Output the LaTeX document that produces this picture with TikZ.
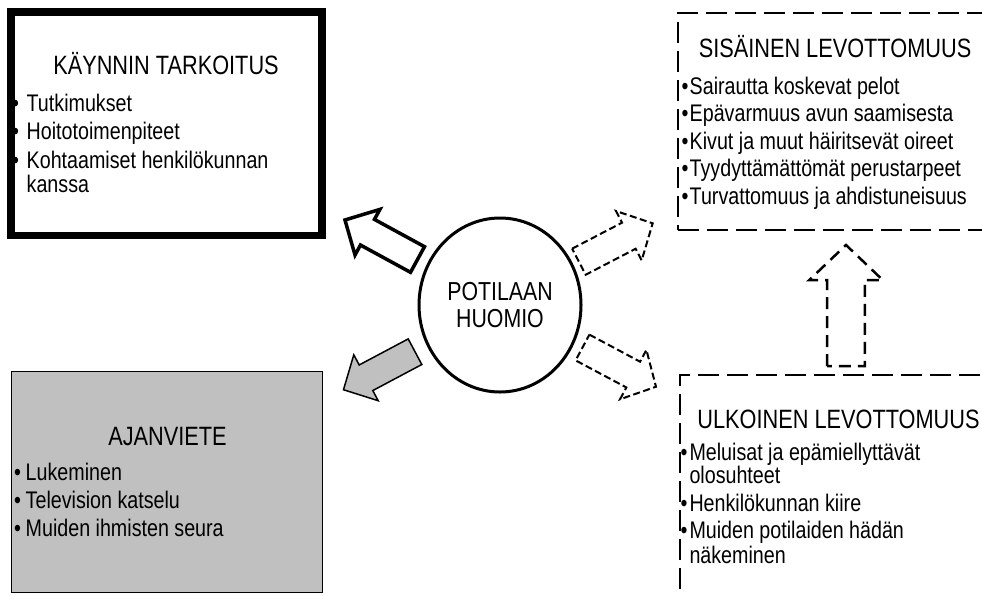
\documentclass[tikz,border=0pt]{standalone}
\usepackage{fontspec}
\setmainfont[FakeStretch=0.82]{Liberation Sans}
\usetikzlibrary{shapes.geometric}
\definecolor{boxgray}{HTML}{C0C0C0}
\newcommand\titlefnt{\fontsize{26.5}{28}\selectfont}
\newcommand\bodyfnt{\fontsize{24}{25}\selectfont}
\newcommand\circfnt{\fontsize{26}{27}\selectfont}
% block arrow: style, tail, angle, length, shaft half width, head half width, head length
\newcommand\barrow[7]{\begin{scope}[shift={#2},rotate=#3]
\draw[#1] (0,-#5) -- ({#4-#7},-#5) -- ({#4-#7},-#6) -- (#4,0) -- ({#4-#7},#6) -- ({#4-#7},#5) -- (0,#5) -- cycle;
\end{scope}}
\tikzset{
  solidarrow/.style={draw=black,line width=3.5pt,fill=white},
  grayarrow/.style={draw=black,line width=1.5pt,fill=boxgray},
  dasharrow/.style={draw=black,line width=2pt,dash pattern=on 7pt off 3.5pt,fill=white},
  updash/.style={draw=black,line width=2.5pt,dash pattern=on 12pt off 7pt,fill=white},
  txt/.style={inner sep=0pt,anchor=base west,font=\bodyfnt},
  ttl/.style={inner sep=0pt,anchor=base,font=\titlefnt},
  thickbox/.style={draw=black,line width=7.7pt,fill=white,rectangle,inner sep=0pt},
  graybox/.style={draw=black,line width=1.5pt,fill=boxgray,rectangle,inner sep=0pt},
  dashbox/.style={draw=black,line width=2.7pt,dash pattern=on 21pt off 8pt,rectangle,inner sep=0pt},
}
\begin{document}
\begin{tikzpicture}[x=1pt,y=-1pt]
\useasboundingbox (0,0) rectangle (982,595);
\clip (0,0) rectangle (982,595);
\fill[white] (0,0) rectangle (982,595);

% boxes
\node[thickbox,minimum width=311pt,minimum height=223.3pt] (purpose) at (166.7,123.85) {};
\node[graybox,minimum width=310.6pt,minimum height=220.6pt] (pastime) at (167,482) {};
\node[dashbox,minimum width=322pt,minimum height=217pt] (inner) at (839,121.5) {};
\node[dashbox,minimum width=320pt,minimum height=240pt] (outer) at (840,495) {};

% centre
\node[ellipse,draw=black,line width=3pt,fill=white,minimum width=162pt,minimum height=174pt,
      inner sep=0pt,align=center,font=\circfnt] (focus) at (500,305) {POTILAAN\\HUOMIO};

% block arrows
\barrow{solidarrow}{(417.5,259.5)}{151.4}{82.6}{14.6}{26}{25.6}
\barrow{grayarrow}{(415,351.7)}{208}{81}{14.5}{26}{25.5}
\barrow{dasharrow}{(578.9,261.7)}{27.5}{83.2}{14.7}{27.8}{26.9}
\barrow{dasharrow}{(582.5,347.5)}{-28.1}{83.3}{14.6}{28}{25.8}
\barrow{updash}{(846,366)}{90}{121}{18.9}{36.7}{35}

% titles
\node[ttl] (t1) at (166,74) {KÄYNNIN TARKOITUS};
\node[ttl] (t2) at (167.5,445) {AJANVIETE};
\node[ttl] (t3) at (835,57) {SISÄINEN LEVOTTOMUUS};
\node[ttl] (t4) at (838.5,428) {ULKOINEN LEVOTTOMUUS};

% lists
\foreach \yy/\bb/\tx [count=\i] in {111/1/Tutkimukset,139/1/Hoitotoimenpiteet,168/1/Kohtaamiset henkilökunnan,192/0/kanssa}{
  \node[txt] (pa\i) at (26.5,\yy) {\tx};
  \ifnum\bb=1 \node[txt] (pb\i) at (12,\yy) {\textbullet}; \fi
}
\foreach \yy/\tx [count=\i] in {480.7/Lukeminen,508/Television katselu,536.7/Muiden ihmisten seura}{
  \node[txt] (aa\i) at (25.5,\yy) {\tx};
  \node[txt] (ab\i) at (14,\yy) {\textbullet};
}
\foreach \yy/\tx [count=\i] in {94/Sairautta koskevat pelot,121.7/Epävarmuus avun saamisesta,149/Kivut ja muut häiritsevät oireet,176.7/Tyydyttämättömät perustarpeet,204/Turvattomuus ja ahdistuneisuus}{
  \node[txt] (sa\i) at (689.5,\yy) {\tx};
  \node[txt] (sb\i) at (681.5,\yy) {\textbullet};
}
\foreach \yy/\bb/\tx [count=\i] in {460/1/Meluisat ja epämiellyttävät,483/0/olosuhteet,511.7/1/Henkilökunnan kiire,538/1/Muiden potilaiden hädän,563/0/näkeminen}{
  \node[txt] (ua\i) at (689.3,\yy) {\tx};
  \ifnum\bb=1 \node[txt] (ub\i) at (680.5,\yy) {\textbullet}; \fi
}
\end{tikzpicture}
\end{document}
